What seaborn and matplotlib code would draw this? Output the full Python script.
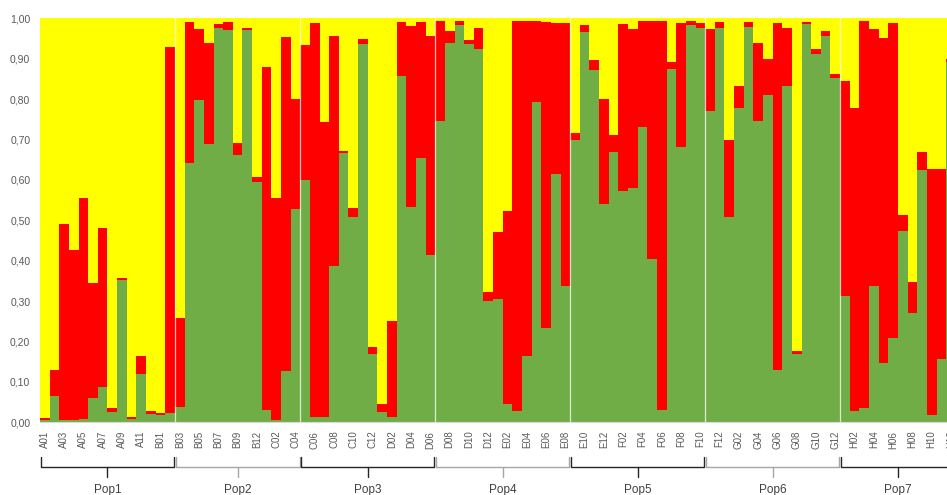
import numpy as np
import pandas as pd
import matplotlib
matplotlib.use("Agg")
import matplotlib.pyplot as plt
from matplotlib.ticker import FuncFormatter
from matplotlib.transforms import blended_transform_factory
import seaborn as sns

# ---- data ----
pop1 = ["A01", "A02", "A03", "A04", "A05", "A06", "A07", "A08", "A09", "A10", "A11", "A12", "B01", "B02"]
pop2 = ["B03", "B04", "B05", "B06", "B07", "B08", "B09", "B10", "B12", "C01", "C02", "C03", "C04"]
pop3 = ["C05", "C06", "C07", "C08", "C09", "C10", "C11", "C12", "D01", "D02", "D03", "D04", "D05", "D06"]
pop4 = ["D07", "D08", "D09", "D10", "D11", "D12", "E01", "E02", "E03", "E04", "E05", "E06", "E07", "E08"]
pop5 = ["E09", "E10", "E11", "E12", "F01", "F02", "F03", "F04", "F05", "F06", "F07", "F08", "F09", "F10"]
pop6 = ["F11", "F12", "G01", "G02", "G03", "G04", "G05", "G06", "G07", "G08", "G09", "G10", "G11", "G12"]
pop7 = ["H01", "H02", "H03", "H04", "H05", "H06", "H07", "H08", "H09", "H10", "H11", "H12"]
pop_names = ["Pop1", "Pop2", "Pop3", "Pop4", "Pop5", "Pop6", "Pop7"]
pops = [pop1, pop2, pop3, pop4, pop5, pop6, pop7]

# membership proportions (cluster green, cluster red); yellow = remainder
green = [0.006, 0.064, 0.005, 0.006, 0.008, 0.061, 0.087, 0.025, 0.351, 0.007, 0.120, 0.020, 0.018, 0.023,
         0.039, 0.641, 0.798, 0.688, 0.977, 0.972, 0.662, 0.971, 0.596, 0.030, 0.006, 0.127, 0.527,
         0.600, 0.013, 0.012, 0.388, 0.666, 0.509, 0.936, 0.168, 0.026, 0.012, 0.857, 0.532, 0.655, 0.414,
         0.747, 0.940, 0.983, 0.936, 0.924, 0.301, 0.304, 0.045, 0.028, 0.164, 0.792, 0.234, 0.614, 0.337,
         0.699, 0.967, 0.872, 0.540, 0.668, 0.573, 0.579, 0.730, 0.403, 0.030, 0.874, 0.681, 0.983, 0.977,
         0.771, 0.975, 0.507, 0.779, 0.978, 0.747, 0.810, 0.130, 0.832, 0.168, 0.985, 0.911, 0.956, 0.853,
         0.313, 0.028, 0.035, 0.337, 0.148, 0.208, 0.474, 0.270, 0.625, 0.018, 0.157, 0.891]
red = [0.004, 0.066, 0.485, 0.421, 0.546, 0.285, 0.395, 0.010, 0.005, 0.006, 0.045, 0.008, 0.004, 0.907,
       0.218, 0.349, 0.176, 0.250, 0.008, 0.020, 0.030, 0.006, 0.012, 0.849, 0.548, 0.826, 0.273,
       0.334, 0.976, 0.732, 0.567, 0.006, 0.021, 0.014, 0.019, 0.019, 0.239, 0.133, 0.450, 0.335, 0.541,
       0.246, 0.029, 0.010, 0.011, 0.053, 0.021, 0.168, 0.478, 0.965, 0.829, 0.201, 0.758, 0.375, 0.652,
       0.018, 0.016, 0.025, 0.260, 0.042, 0.412, 0.394, 0.263, 0.590, 0.963, 0.017, 0.308, 0.011, 0.011,
       0.202, 0.015, 0.192, 0.054, 0.012, 0.191, 0.090, 0.859, 0.145, 0.009, 0.007, 0.012, 0.013, 0.009,
       0.533, 0.749, 0.958, 0.637, 0.804, 0.781, 0.039, 0.077, 0.045, 0.608, 0.470, 0.009]

samples = [s for p in pops for s in p]
g = np.array(green)
r = np.array(red)
df = pd.DataFrame({"sample": samples,
                   "yellow_top": np.ones(len(samples)),
                   "red_top": g + r,
                   "green_top": g})

C_YELLOW = "#FFFF00"
C_RED = "#FF0000"
C_GREEN = "#70AD47"

sns.set_theme(style="white")
plt.rcParams["font.family"] = ["Liberation Sans", "DejaVu Sans"]

fig = plt.figure(figsize=(9.47, 4.95), dpi=100)
ax = fig.add_axes([40 / 947, 1 - 422.3 / 495, 95 * 9.64 / 947, 404 / 495])

for col, c in [("yellow_top", C_YELLOW), ("red_top", C_RED), ("green_top", C_GREEN)]:
    sns.barplot(data=df, x="sample", y=col, order=samples, color=c, width=1.0,
                linewidth=0, saturation=1, ax=ax, errorbar=None)

n = len(samples)
ax.set_xlim(-0.5, n - 0.5)
ax.set_ylim(0, 1)
ax.set_yticks(np.arange(0, 1.01, 0.1))
ax.yaxis.set_major_formatter(FuncFormatter(lambda v, p: f"{v:.2f}".replace(".", ",")))
ax.set_xticks(range(0, n, 2))
ax.set_xticklabels(samples[::2], rotation=90, fontsize=7, color="#595959")
ax.tick_params(axis="y", labelsize=7.5, labelcolor="#595959", length=0, pad=7)
ax.tick_params(axis="x", length=0, pad=6)
ax.set_xlabel("")
ax.set_ylabel("")
for s in ["top", "right", "left"]:
    ax.spines[s].set_visible(False)
ax.spines["bottom"].set_color("#d9d9d9")
ax.spines["bottom"].set_linewidth(0.8)

# population dividers
bounds = np.cumsum([len(p) for p in pops])
for b in bounds[:-1]:
    ax.axvline(b - 0.5, color="white", lw=0.9, alpha=0.75)

# brackets
tr = blended_transform_factory(ax.transData, ax.transAxes)
y_top, y_mid, y_tick, y_lab = -0.086, -0.111, -0.135, -0.168
start = -0.5
for i, (p, name) in enumerate(zip(pops, pop_names)):
    end = start + len(p)
    col = "#262626" if i % 2 == 0 else "#a6a6a6"
    x0, x1 = start + 0.08, end - 0.08
    if i == len(pops) - 1:
        x1 = end + 2
    ax.plot([x0, x0, x1, x1], [y_top, y_mid, y_mid, y_top], color=col, lw=1.0,
            transform=tr, clip_on=False, solid_joinstyle="round")
    xm = (start + end) / 2
    ax.plot([xm, xm], [y_mid, y_tick], color=col, lw=1.0, transform=tr, clip_on=False)
    ax.text(xm, y_lab, name, transform=tr, ha="center", va="center", fontsize=8.5,
            color="#404040")
    start = end

fig.savefig("out.png", dpi=100)
